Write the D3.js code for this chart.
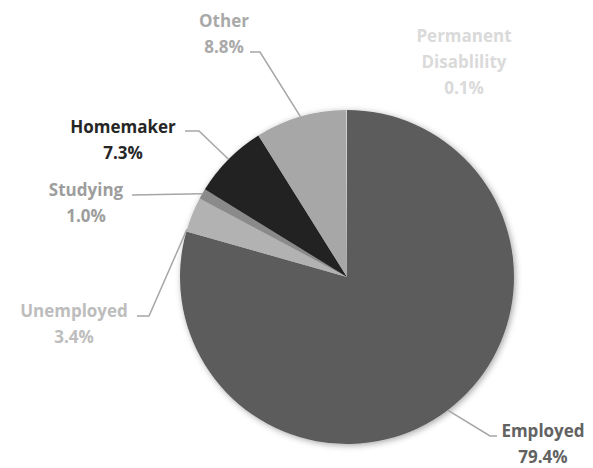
<!DOCTYPE html>
<html>
<head>
<meta charset="utf-8">
<script src="https://cdn.jsdelivr.net/npm/d3@7"></script>
<style>
	body{margin:0;background:#fff;}
	text{font-family:"Open Sans", Lato, sans-serif;font-weight:700;}
</style>
</head>
<body>
<div class="chart"></div>
<script>
//data
const categories = ['Employed','Unemployed','Studying','Homemaker','Other','Permanent Disability'];
const values = [79.4, 3.4, 1.0, 7.3, 8.8, 0.1];
const labelLines = [['Employed'],['Unemployed'],['Studying'],['Homemaker'],['Other'],['Permanent','Disablility']];

//styles
const sliceColors = ['#5b5b5b','#b2b2b2','#8a8a8a','#222222','#a7a7a7','#d0d0d0'];
const textColors = ['#626262','#bdbdbd','#9d9d9d','#262626','#a9a9a9','#dadada'];

const W = 593, H = 468;
const cx = 347, cy = 277, R = 167;

//label layout: text anchor (center x, first baseline y), elbow of the leader, where the leader meets the slice (0..1 of its angle)
const labelLayout = [
	{x:543, y:437, elbow:[490,436], start:[497,436], t:0.5},
	{x:74,  y:317, elbow:[149,316], start:[137,316], t:0.06},
	{x:86,  y:196, elbow:null,      start:[132,195], t:0.5},
	{x:123, y:133, elbow:[199,131], start:[185,131], t:0.5},
	{x:224, y:27,  elbow:[260,52],  start:[250,52],  t:0.5},
	{x:464, y:42,  elbow:null,      start:null,      t:0.5}
];

const svg = d3.select('.chart').append('svg')
	.attr('width', W)
	.attr('height', H);

const defs = svg.append('defs');
const shadow = defs.append('filter')
	.attr('id','soft')
	.attr('x','-20%').attr('y','-20%')
	.attr('width','140%').attr('height','140%');
shadow.append('feDropShadow')
	.attr('dx',1.5).attr('dy',1.5)
	.attr('stdDeviation',3)
	.attr('flood-color','#000')
	.attr('flood-opacity',0.35);

const pie = d3.pie().sort(null).value(d => d);
const arcs = pie(values);
const arc = d3.arc().innerRadius(0).outerRadius(R);

const g = svg.append('g')
	.attr('transform', `translate(${cx},${cy})`);

g.append('g')
	.attr('filter','url(#soft)')
	.selectAll('path')
	.data(arcs)
	.join('path')
	.attr('d', arc)
	.attr('fill', (d,i) => sliceColors[i]);

//leader lines
const pointOn = (d, t) => {
	const a = d.startAngle + (d.endAngle - d.startAngle) * t;
	return [cx + Math.sin(a) * R, cy - Math.cos(a) * R];
};

labelLayout.forEach((L, i) => {
	if(!L.start) return;
	const pts = [L.start];
	if(L.elbow) pts.push(L.elbow);
	pts.push(pointOn(arcs[i], L.t));
	svg.append('path')
		.attr('d', d3.line()(pts))
		.attr('fill','none')
		.attr('stroke','#a6a6a6')
		.attr('stroke-width',1.5);
});

//labels
const lineH = 26;
labelLayout.forEach((L, i) => {
	const lines = labelLines[i].concat([values[i].toFixed(1) + '%']);
	const t = svg.append('text')
		.attr('text-anchor','middle')
		.attr('fill', textColors[i])
		.style('font-size','17px');
	lines.forEach((s, k) => {
		t.append('tspan')
			.attr('x', L.x)
			.attr('y', L.y + k * lineH)
			.text(s);
	});
});
</script>
</body>
</html>
